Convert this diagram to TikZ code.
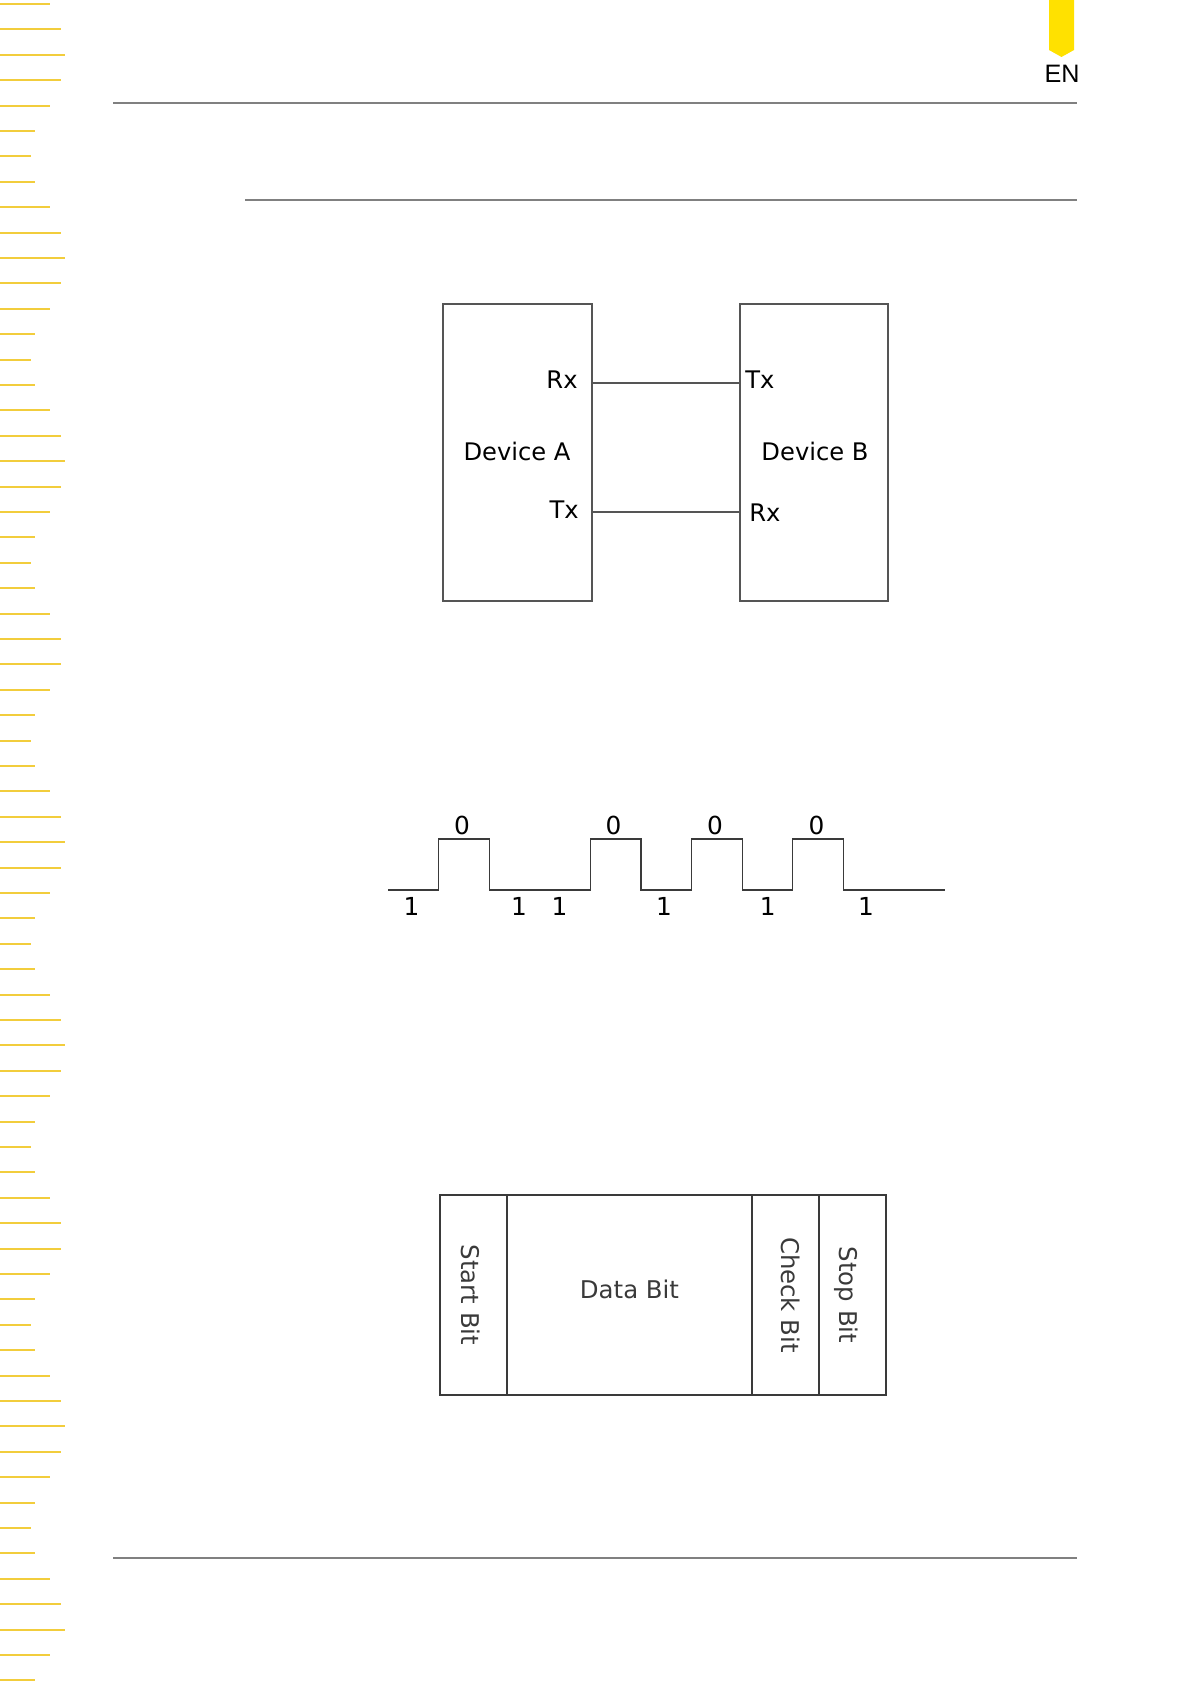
\documentclass[tikz,border=0pt]{standalone}
\usepackage{fontspec}
\newfontfamily\dejavu{DejaVu Sans}
\newfontfamily\arialfont{Liberation Sans}
\usetikzlibrary{positioning}
\definecolor{tabyellow}{HTML}{FFE100}
\definecolor{tickyellow}{HTML}{F2CD3C}
\definecolor{rulegray}{HTML}{808080}
\definecolor{boxgray}{HTML}{555555}
\definecolor{framegray}{HTML}{3A3A3A}
\begin{document}
\begin{tikzpicture}[x=0.5pt, y=-0.5pt,
    tick/.style={draw=tickyellow, line width=1pt},
    rule/.style={draw=rulegray, line width=1pt},
    device/.style={draw=boxgray, line width=0.6pt, minimum width=74.5pt, minimum height=148.5pt, inner sep=0pt},
    devtext/.style={font=\dejavu\fontsize{12.1pt}{15pt}\selectfont, inner sep=0pt},
    wire/.style={draw=boxgray, line width=0.6pt},
    signal/.style={draw=framegray, line width=0.65pt},
    bitlabel/.style={font=\dejavu\fontsize{12.4pt}{15pt}\selectfont, inner sep=0pt},
    field/.style={draw=framegray, line width=1pt, minimum height=100pt, inner sep=0pt},
    fieldtext/.style={inner sep=0pt, text=framegray, font=\dejavu\fontsize{12.2pt}{15pt}\selectfont}]
    \useasboundingbox (0,0) rectangle (1191,1684);
    % Page furniture:
    \foreach \len [count=\i from 0] in {50,61,65,61,50,35,31,35,50,61,65,61,50,35,31,35,50,61,65,61,50,35,31,35,50,61,
        61,50,35,31,35,50,61,65,61,50,35,31,35,50,61,65,61,50,35,31,35,50,61,
        61,50,35,31,35,50,61,65,61,50,35,31,35,50,61,65,50,35}
        \draw[tick] (0,{4+25.4*\i}) -- ++(\len,0);
    \fill[tabyellow] (1049,0) -- (1074,0) -- (1074,50) -- (1061.5,57) -- (1049,50) -- cycle;
    \node[font=\arialfont\fontsize{12.6pt}{15pt}\selectfont, inner sep=0pt] (lang) at (1062,74) {EN};
    \draw[rule] (113,103) -- (1077,103);
    \draw[rule, line width=0.7pt] (245,200) -- (1077,200);
    \draw[rule] (113,1558) -- (1077,1558);
    % Devices and wires:
    \node[device] (devA) at (517.5,452.5) {};
    \node[device, minimum width=74pt] (devB) at (814,452.5) {};
    \node[devtext, anchor=base] (nameA) at (517,460) {Device A};
    \node[devtext, anchor=base] (nameB) at (815,460) {Device B};
    \node[devtext, anchor=base east] (rxA) at (578,389) {Rx};
    \node[devtext, anchor=base east] (txA) at (579,518) {Tx};
    \node[devtext, anchor=base west] (txB) at (745,389) {Tx};
    \node[devtext, anchor=base west] (rxB) at (749,521) {Rx};
    \draw[wire] (devA.east |- 0,383) -- (devB.west |- 0,383);
    \draw[wire] (devA.east |- 0,512) -- (devB.west |- 0,512);
    % Bit stream:
    \draw[signal] (388,890) -- (438.6,890) -- (438.6,839) -- (489.2,839) -- (489.2,890) -- (590.4,890) -- (590.4,839) -- (641,839) -- (641,890)
        -- (691.6,890) -- (691.6,839) -- (742.2,839) -- (742.2,890) -- (792.8,890) -- (792.8,839) -- (843.4,839) -- (843.4,890) -- (944.6,890);
    \foreach \x [count=\n] in {462,613.5,715,816.5}
        \node[bitlabel, anchor=base] (zero\n) at (\x,834) {0};
    \foreach \x [count=\n] in {411.5,519,559.5,664,767.8,866}
        \node[bitlabel, anchor=base] (one\n) at (\x,915) {1};
    % Frame:
    \node[field, minimum width=33.5pt] (startF) at (473.5,1295) {};
    \node[field, minimum width=122.5pt] (dataF) at (629.5,1295) {};
    \node[field, minimum width=33.5pt] (checkF) at (785.5,1295) {};
    \node[field, minimum width=33.5pt] (stopF) at (852.5,1295) {};
    \node[fieldtext, rotate=-90] (startT) at ([xshift=-1.5pt]startF.center) {Start Bit};
    \node[fieldtext] (dataT) at ([yshift=3pt]dataF.center) {Data Bit};
    \node[fieldtext, rotate=-90] (checkT) at ([xshift=2.5pt]checkF.center) {Check Bit};
    \node[fieldtext, rotate=-90] (stopT) at ([xshift=-3pt]stopF.center) {Stop Bit};
\end{tikzpicture}
\end{document}
